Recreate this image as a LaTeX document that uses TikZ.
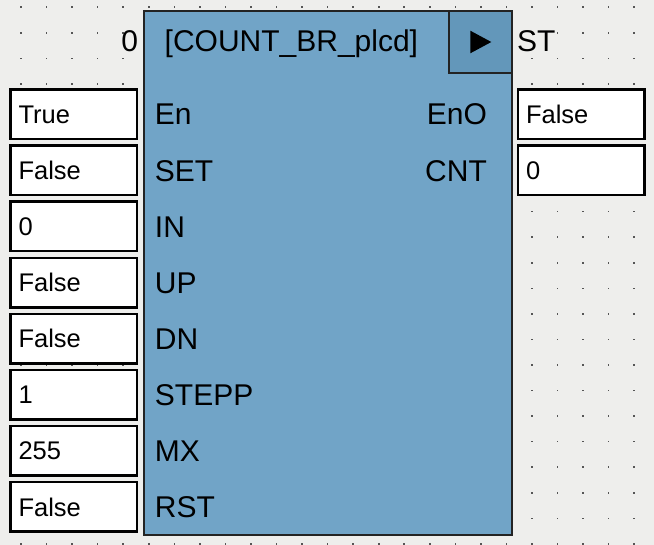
\documentclass[tikz,border=0pt]{standalone}
\usepackage{fontspec}
\setmainfont{Liberation Sans}
\usetikzlibrary{positioning}
\definecolor{blockblue}{RGB}{113,164,199}
\definecolor{btnblue}{RGB}{99,151,186}
\definecolor{canvas}{RGB}{238,238,236}
\definecolor{dotgray}{RGB}{85,85,85}
\definecolor{edge}{RGB}{35,35,35}

\begin{document}
\begin{tikzpicture}[x=1pt,y=-1pt,
  valbox/.style={draw=black,line width=2.5pt,fill=white,text width=110.5pt,align=left,
    inner xsep=8pt,inner ysep=0pt,minimum height=49.5pt,
    font=\fontsize{25.5}{30}\selectfont,text height=18.3pt,text depth=0pt},
  pinl/.style={inner sep=0pt,font=\fontsize{30}{36}\selectfont,text height=21.5pt,text depth=0pt}]

  \fill[canvas] (0,0) rectangle (654,545);
  \useasboundingbox (0,0) rectangle (654,545);
  \foreach \i in {0,...,24}
    \foreach \j in {0,...,21}
      \fill[dotgray] (20.2+25.55*\i,6.5+25.55*\j) rectangle ++(1.6,1.6);

  \node[draw=edge,line width=2pt,fill=blockblue,minimum width=367.5pt,minimum height=524pt,
    inner sep=0pt] (blk) at (327.75,273) {};
  \node[draw=edge,line width=2pt,fill=btnblue,minimum width=62.4pt,minimum height=62pt,
    inner sep=0pt,anchor=north east] (btn) at (blk.north east) {};
  \fill (btn.center) ++(-10,-11.3) -- ++(21,11.3) -- ++(-21,11.3) -- cycle;

  \node[pinl,anchor=east] (cnt0) at (138.3,40.5) {0};
  \node[pinl,anchor=west] (title) at (164.5,40.5) {[COUNT\_BR\_plcd]};
  \node[pinl,right=4.3pt of btn.east,yshift=1.5pt] (st) {ST};

  \node[valbox] (vEn) at (73.75,114.25) {True};
  \node[valbox,below=4.1pt of vEn] (vSET) {False};
  \node[valbox,below=4.1pt of vSET] (vIN) {0};
  \node[valbox,below=4.1pt of vIN] (vUP) {False};
  \node[valbox,below=4.1pt of vUP] (vDN) {False};
  \node[valbox,below=4.1pt of vDN] (vSTEPP) {1};
  \node[valbox,below=4.1pt of vSTEPP] (vMX) {255};
  \node[valbox,below=4.1pt of vMX] (vRST) {False};

  \node[pinl,right=16.5pt of vEn] (En) {En};
  \node[pinl,right=16.5pt of vSET] (SET) {SET};
  \node[pinl,right=16.5pt of vIN] (IN) {IN};
  \node[pinl,right=16.5pt of vUP] (UP) {UP};
  \node[pinl,right=16.5pt of vDN] (DN) {DN};
  \node[pinl,right=16.5pt of vSTEPP] (STEPP) {STEPP};
  \node[pinl,right=16.5pt of vMX] (MX) {MX};
  \node[pinl,right=16.5pt of vRST] (RST) {RST};

  \node[valbox] (vEnO) at (581.25,114.25) {False};
  \node[valbox,below=4.1pt of vEnO] (vCNT) {0};
  \node[pinl,left=29.7pt of vEnO] (EnO) {EnO};
  \node[pinl,left=29.7pt of vCNT] (CNT) {CNT};
\end{tikzpicture}
\end{document}
